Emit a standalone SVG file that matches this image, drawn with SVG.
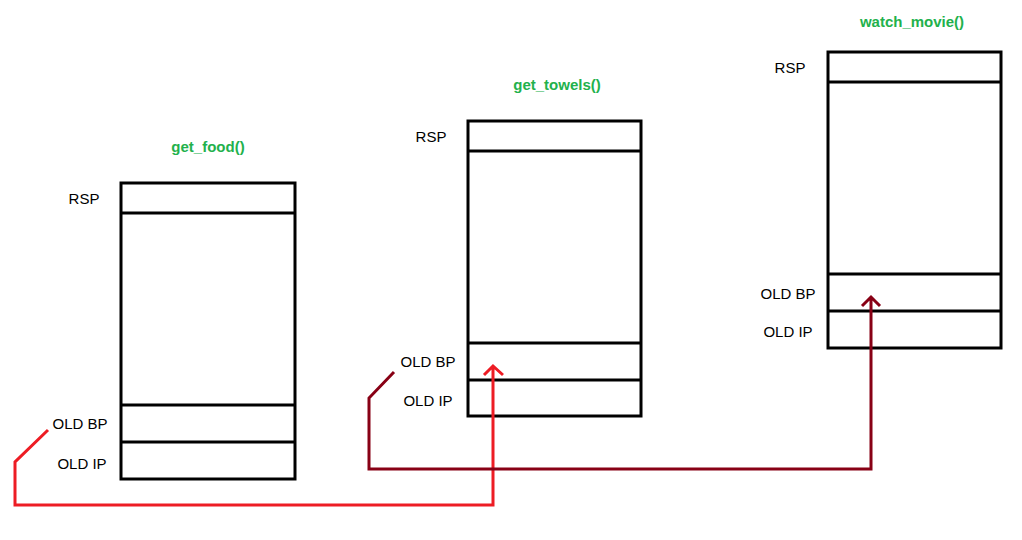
<svg xmlns="http://www.w3.org/2000/svg" width="1022" height="540" viewBox="0 0 1022 540">
<style>
.box{fill:none;stroke:#000;stroke-width:3}
.t{font-family:"Liberation Sans",Arial,sans-serif;font-size:15px;fill:#000;text-anchor:middle}
.h{font-family:"Liberation Sans",Arial,sans-serif;font-size:15px;font-weight:bold;fill:#22b14c;text-anchor:middle}
.c{fill:none;stroke-width:3;stroke-linejoin:miter}
</style>
<rect width="1022" height="540" fill="#fff"/>
<g id="get_food">
<rect class="box" x="121" y="183" width="174" height="296"/>
<path class="box" d="M121 213H295M121 405H295M121 442H295"/>
<text class="h" x="208" y="152">get_food()</text>
<text class="t" x="84" y="204">RSP</text>
<text class="t" x="80" y="429">OLD BP</text>
<text class="t" x="82" y="469">OLD IP</text>
</g>
<g id="get_towels">
<rect class="box" x="468" y="121" width="173" height="295"/>
<path class="box" d="M468 151H641M468 343H641M468 380H641"/>
<text class="h" x="557" y="90">get_towels()</text>
<text class="t" x="431" y="142">RSP</text>
<text class="t" x="428" y="367">OLD BP</text>
<text class="t" x="428" y="406">OLD IP</text>
</g>
<g id="watch_movie">
<rect class="box" x="828" y="52" width="173" height="296"/>
<path class="box" d="M828 82H1001M828 274H1001M828 311H1001"/>
<text class="h" x="912" y="27">watch_movie()</text>
<text class="t" x="790" y="73">RSP</text>
<text class="t" x="788" y="299">OLD BP</text>
<text class="t" x="788" y="337">OLD IP</text>
</g>
<g id="connectors">
<path class="c" stroke="#ed1c24" d="M48 430L15 462V505H493V366M484 375L493 366L503 375"/>
<path class="c" stroke="#880015" d="M394 372L369 398V469H871V297M862 306L871 297L880 306"/>
</g>
</svg>
